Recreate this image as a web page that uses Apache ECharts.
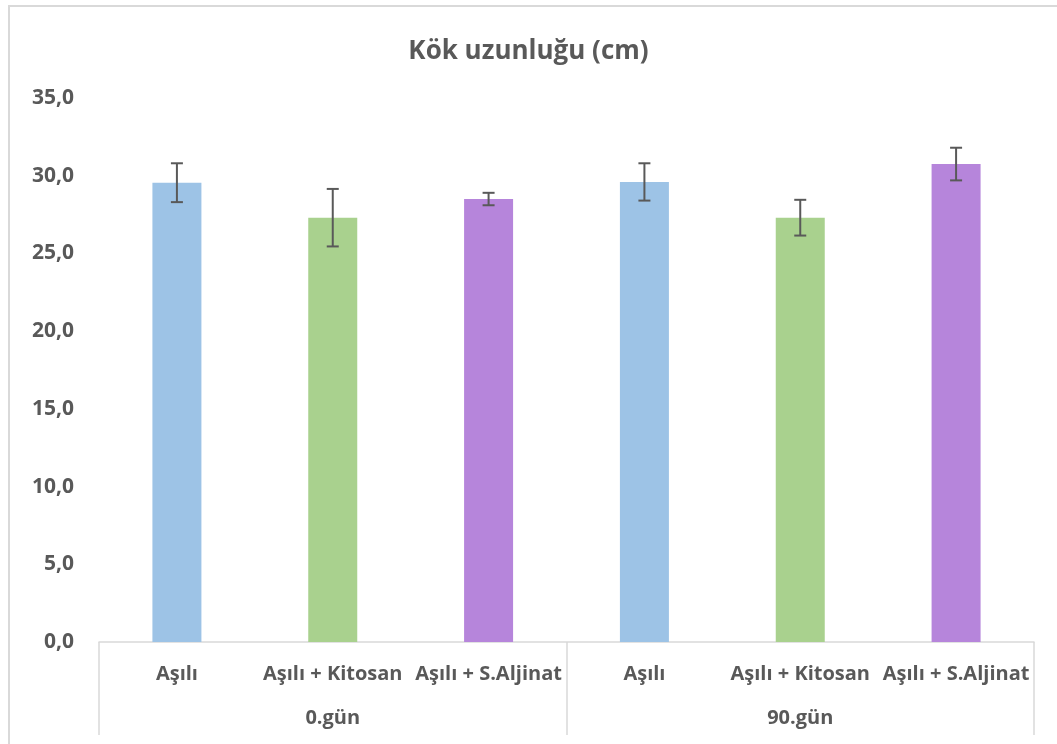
<!DOCTYPE html>
<html>
<head>
<meta charset="utf-8" />
<title>Kök uzunluğu</title>
<style>
  html, body { margin: 0; padding: 0; background: #fff; }
  #chart { width: 1057px; height: 744px; }
</style>
</head>
<body>
<div id="chart"></div>
<script src="https://cdn.jsdelivr.net/npm/echarts@6/dist/echarts.min.js"></script>
<script>
var categories = ['Aşılı', 'Aşılı + Kitosan', 'Aşılı + S.Aljinat', 'Aşılı', 'Aşılı + Kitosan', 'Aşılı + S.Aljinat'];
var groups = ['0.gün', '90.gün'];
var values = [29.55, 27.3, 28.5, 29.6, 27.3, 30.75];
var errors = [1.25, 1.85, 0.4, 1.2, 1.15, 1.05];
var colors = ['#9DC3E6', '#A9D18E', '#B685DB', '#9DC3E6', '#A9D18E', '#B685DB'];

var textColor = '#595959';
var fontFam = '"Open Sans", "Noto Sans", sans-serif';

var barData = values.map(function (v, i) {
  return { value: v, itemStyle: { color: colors[i] } };
});
var errData = values.map(function (v, i) {
  return [i, v - errors[i], v + errors[i]];
});

var chart = echarts.init(document.getElementById('chart'));
chart.setOption({
  animation: false,
  title: {
    text: 'Kök uzunluğu (cm)',
    left: 'center',
    top: 34,
    textStyle: { color: textColor, fontSize: 26, fontWeight: 'bold', fontFamily: fontFam }
  },
  graphic: [{
    type: 'rect',
    shape: { x: 9, y: 6, width: 1080, height: 780 },
    style: { fill: null, stroke: '#D9D9D9', lineWidth: 2 },
    silent: true
  }],
  grid: { left: 99, right: 23, top: 98, bottom: 102 },
  xAxis: [{
    type: 'category',
    data: categories,
    axisLine: { show: true, lineStyle: { color: '#D9D9D9', width: 1.5 } },
    axisTick: { show: false },
    axisLabel: { color: textColor, fontSize: 20, fontWeight: 'bold', fontFamily: fontFam, margin: 22, interval: 0 }
  }, {
    type: 'category',
    data: groups,
    position: 'bottom',
    axisLine: { show: false },
    axisTick: { show: true, length: 93, lineStyle: { color: '#D9D9D9', width: 1.5 } },
    axisLabel: { color: textColor, fontSize: 20, fontWeight: 'bold', fontFamily: fontFam, margin: 66 }
  }],
  yAxis: {
    type: 'value',
    min: 0,
    max: 35,
    interval: 5,
    axisLine: { show: false },
    axisTick: { show: false },
    splitLine: { show: false },
    axisLabel: {
      color: textColor, fontSize: 21, fontWeight: 'bold', fontFamily: fontFam, margin: 25,
      formatter: function (v) { return v.toFixed(1).replace('.', ','); }
    }
  },
  series: [{
    type: 'bar',
    xAxisIndex: 0,
    data: barData,
    barWidth: 49
  }, {
    type: 'custom',
    xAxisIndex: 0,
    data: errData,
    z: 10,
    renderItem: function (params, api) {
      var x = api.coord([api.value(0), 0])[0];
      var lo = api.coord([api.value(0), api.value(1)])[1];
      var hi = api.coord([api.value(0), api.value(2)])[1];
      var hw = 6;
      var st = { stroke: '#595959', lineWidth: 2 };
      return {
        type: 'group',
        children: [
          { type: 'line', shape: { x1: x, y1: lo, x2: x, y2: hi }, style: st },
          { type: 'line', shape: { x1: x - hw, y1: lo, x2: x + hw, y2: lo }, style: st },
          { type: 'line', shape: { x1: x - hw, y1: hi, x2: x + hw, y2: hi }, style: st }
        ]
      };
    }
  }]
});
</script>
</body>
</html>
